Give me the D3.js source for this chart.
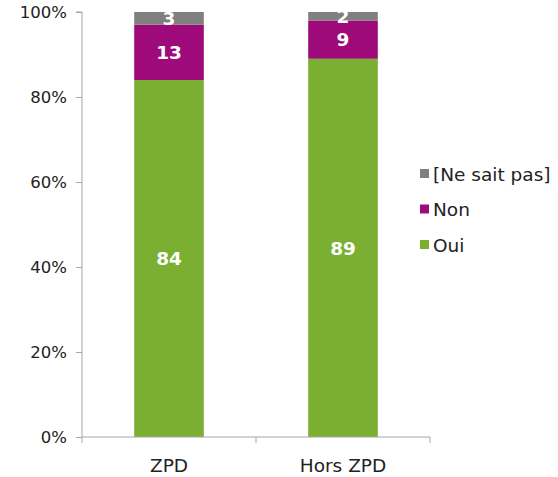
<!DOCTYPE html>
<html><head><meta charset="utf-8">
<script src="https://cdn.jsdelivr.net/npm/d3@7"></script>
<style>body{margin:0;background:#fff}svg{display:block}text{font-family:"DejaVu Sans",Verdana,sans-serif}</style>
</head><body>
<svg id="c" width="558" height="477"></svg>
<script>
const categories = ["ZPD", "Hors ZPD"];
const seriesNames = ["Oui", "Non", "[Ne sait pas]"];
const oui = [84, 89];
const non = [13, 9];
const nsp = [3, 2];
const yTicks = [0, 20, 40, 60, 80, 100];
const colors = ["#7aaf32", "#9e0a7a", "#808080"];

const FS = 18.5;
const svg = d3.select("#c");
const m = {l: 82, r: 128, t: 12, b: 40};
const W = 558, H = 477;
const x = d3.scaleBand().domain(categories).range([m.l, W - m.r]).paddingInner(0.6).paddingOuter(0.3);
const y = d3.scaleLinear().domain([0, 100]).range([H - m.b, m.t]);

const rows = categories.map((c, i) => ({cat: c, "Oui": oui[i], "Non": non[i], "[Ne sait pas]": nsp[i]}));
const stack = d3.stack().keys(seriesNames)(rows);

const g = svg.append("g");
stack.forEach((s, k) => {
  g.selectAll(null).data(s).enter().append("rect")
    .attr("x", d => x(d.data.cat))
    .attr("width", x.bandwidth())
    .attr("y", d => y(d[1]))
    .attr("height", d => y(d[0]) - y(d[1]))
    .attr("fill", colors[k]);
  g.selectAll(null).data(s).enter().append("text")
    .attr("x", d => x(d.data.cat) + x.bandwidth() / 2)
    .attr("y", d => (y(d[0]) + y(d[1])) / 2)
    .attr("dy", "0.36em")
    .attr("text-anchor", "middle")
    .attr("fill", "#fff")
    .attr("font-weight", "bold")
    .attr("font-size", FS)
    .text(d => d[1] - d[0]);
});

// y axis
const ya = svg.append("g").attr("transform", `translate(${m.l},0)`)
  .call(d3.axisLeft(y).tickValues(yTicks).tickFormat(d => d + "%").tickSize(6).tickPadding(9));
ya.select(".domain").attr("stroke", "#a6a6a6").attr("d", `M-6,${y(100)}H0V${y(0)}`);
ya.selectAll(".tick line").attr("stroke", "#a6a6a6");
ya.selectAll(".tick text").attr("font-size", 16.5).attr("fill", "#222").attr("font-family", "DejaVu Sans, Verdana, sans-serif");

// x axis
const xa = svg.append("g").attr("transform", `translate(0,${y(0)})`);
const x0 = m.l, x1 = W - m.r;
const xb = d3.scaleLinear().domain([0, categories.length]).range([x0, x1]);
xa.append("path").attr("d", `M${x0},0H${x1}`).attr("stroke", "#a6a6a6").attr("fill", "none");
xa.selectAll(null).data(d3.range(categories.length + 1)).enter().append("line")
  .attr("x1", d => xb(d)).attr("x2", d => xb(d)).attr("y1", 0).attr("y2", 6).attr("stroke", "#a6a6a6");
xa.selectAll(null).data(categories).enter().append("text")
  .attr("x", d => x(d) + x.bandwidth() / 2).attr("y", 35)
  .attr("text-anchor", "middle").attr("font-size", FS).attr("fill", "#222").text(d => d);

// legend
const leg = svg.append("g");
const legItems = [2, 1, 0];
legItems.forEach((k, i) => {
  const ly = 174 + i * 35.5;
  leg.append("rect").attr("x", 420).attr("y", ly - 5).attr("width", 9).attr("height", 9).attr("fill", colors[k]);
  leg.append("text").attr("x", 433).attr("y", ly).attr("dy", "0.36em").attr("font-size", FS).attr("fill", "#222").text(seriesNames[k]);
});
</script>
</body></html>
